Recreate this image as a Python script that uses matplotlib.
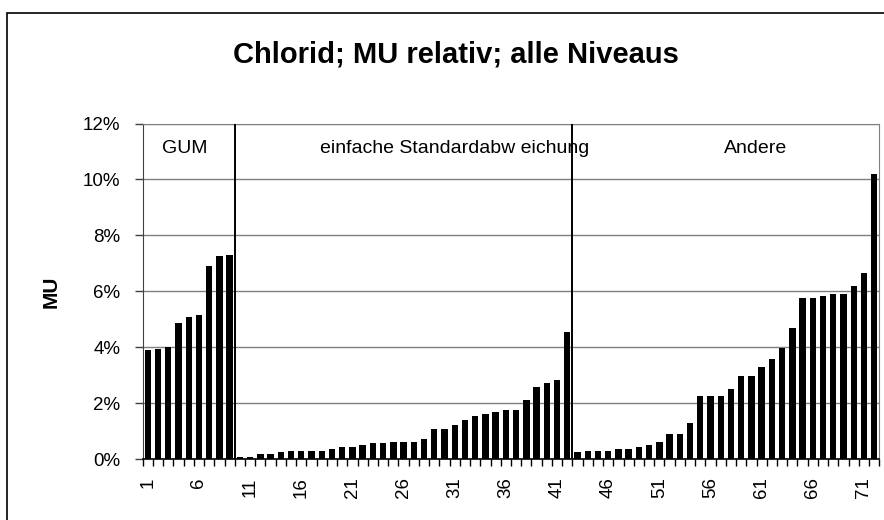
import numpy as np
import matplotlib
matplotlib.use("Agg")
import matplotlib.pyplot as plt
from matplotlib.patches import Rectangle

plt.rcParams['font.family'] = ['Liberation Sans', 'DejaVu Sans']

# relative measurement uncertainty (%) per lab, sorted within each method group
gum_values = [3.89, 3.95, 4.03, 4.87, 5.07, 5.15, 6.90, 7.25, 7.30]
stdabw_values = [0.09, 0.07, 0.18, 0.18, 0.25, 0.30, 0.30, 0.30, 0.30, 0.37,
                 0.43, 0.43, 0.50, 0.57, 0.57, 0.63, 0.63, 0.63, 0.71, 1.09,
                 1.09, 1.23, 1.41, 1.55, 1.61, 1.68, 1.75, 1.75, 2.13, 2.58,
                 2.73, 2.85, 4.55]
andere_values = [0.25, 0.30, 0.30, 0.30, 0.36, 0.36, 0.43, 0.50, 0.63, 0.89,
                 0.89, 1.29, 2.26, 2.26, 2.26, 2.53, 2.98, 2.98, 3.30, 3.57,
                 3.96, 4.68, 5.78, 5.78, 5.85, 5.92, 5.92, 6.19, 6.64, 10.18]
group_labels = ["GUM", "einfache Standardabw eichung", "Andere"]
y_ticks = [0, 2, 4, 6, 8, 10, 12]

values = gum_values + stdabw_values + andere_values
positions = np.arange(1, len(values) + 1)

fig = plt.figure(figsize=(8.84, 5.2), dpi=100)
ax = fig.add_axes([0.1614, 0.1167, 0.8333, 0.6458])

# outer chart border (right/bottom run off the image)
fig.patches.append(Rectangle((7 / 884, -0.1), 1.2, 1 - 13 / 520 + 0.1,
                             transform=fig.transFigure, fill=False,
                             edgecolor='black', linewidth=1.2))

ax.bar(positions, values, width=0.62, color='black', zorder=3)

ax.set_xlim(0.5, len(values) + 0.5)
ax.set_ylim(0, 12)
ax.set_yticks(y_ticks)
ax.set_yticklabels([f"{t}%" for t in y_ticks], fontsize=13.5)
ax.yaxis.grid(True, color='#808080', linewidth=1.0, zorder=0)

# category ticks between bars, labels every 5th
ax.set_xticks(np.arange(0.5, len(values) + 1, 1.0), minor=True)
ax.set_xticks(positions[::5])
ax.set_xticklabels([str(p) for p in positions[::5]], rotation=90, fontsize=13.5)
ax.tick_params(axis='x', which='major', length=0, pad=13)
ax.tick_params(axis='x', which='minor', length=5, width=1, color='black', direction='out')
ax.tick_params(axis='y', length=6, width=1, color='#404040', pad=10)

ax.set_ylabel("MU", fontsize=15, fontweight='bold', labelpad=16)

for side in ['top', 'right']:
    ax.spines[side].set_color('#808080')
ax.spines['left'].set_color('#404040')
ax.spines['bottom'].set_color('black')
ax.spines['bottom'].set_linewidth(1.2)

# group separators and labels
n1 = len(gum_values)
n2 = n1 + len(stdabw_values)
for xb in [n1 + 0.5, n2 + 0.5]:
    ax.axvline(xb, color='black', linewidth=1.4, zorder=4)
label_x = [4.6, 31.0, 60.4]
for lx, txt in zip(label_x, group_labels):
    ax.text(lx, 11.1, txt, ha='center', va='center', fontsize=14)

fig.text(0.516, 0.895, "Chlorid; MU relativ; alle Niveaus", ha='center',
         va='center', fontsize=21, fontweight='bold')

fig.savefig("out.png", dpi=100)
